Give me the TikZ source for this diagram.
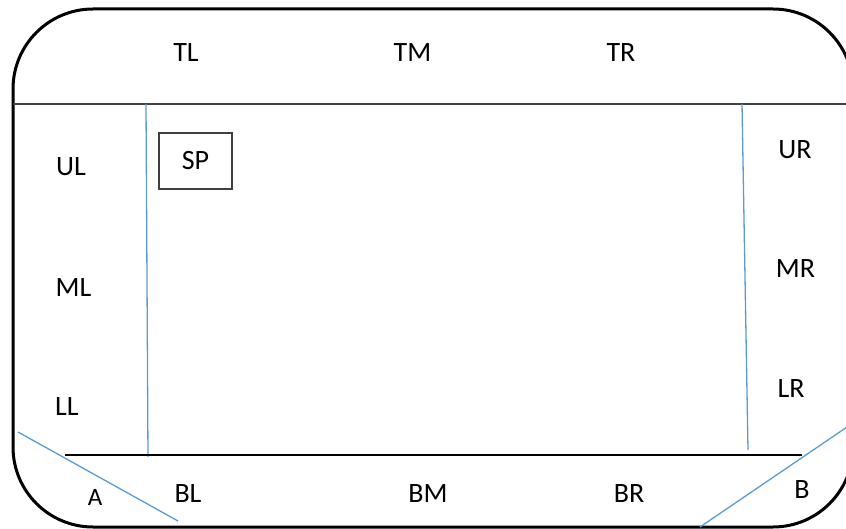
\documentclass[tikz,border=0pt]{standalone}
\usepackage{fontspec}
\setmainfont{Carlito}
\definecolor{bluel}{HTML}{5B9BD5}
\definecolor{darkg}{HTML}{404040}
\begin{document}
\begin{tikzpicture}[x=1pt,y=-1pt,
  lab/.style={font=\fontsize{28}{32}\selectfont, inner sep=0pt, anchor=center},
  blueline/.style={draw=bluel, line width=1.3pt},
  sepline/.style={draw=darkg, line width=2pt},
  outer/.style={draw=black, line width=3pt, rounded corners=80pt}]
\useasboundingbox (0,0) rectangle (846,529);
\clip (0,0) rectangle (846,529);
% outer frame
\draw[outer] (13,9) rectangle (853,527);
% top separator
\draw[sepline] (13,104) -- (846,104);
% blue verticals
\draw[blueline] (146,104) -- (148,457);
\draw[blueline] (742,104) -- (748,450);
% bottom line
\draw[draw=black, line width=1.5pt] (65,455) -- (802,455);
% blue diagonals
\draw[blueline] (18,432) -- (178,521);
\draw[blueline] (700,527) -- (850,425);
% SP box
\node[draw=darkg, line width=1.3pt, minimum width=73pt, minimum height=56pt, inner sep=0pt,
      font=\fontsize{28}{32}\selectfont] (sp) at (195.5,161) {SP};
% labels
\node[lab] (tl) at (186,53) {TL};
\node[lab] (tm) at (412.5,52.5) {TM};
\node[lab] (tr) at (621,53) {TR};
\node[lab] (ul) at (71,167) {UL};
\node[lab] (ml) at (73.5,287.5) {ML};
\node[lab] (ll) at (67,407) {LL};
\node[lab] (ur) at (795,150) {UR};
\node[lab] (mr) at (795.5,269) {MR};
\node[lab] (lr) at (791,389) {LR};
\node[lab] (bl) at (188,494) {BL};
\node[lab] (bm) at (428,494) {BM};
\node[lab] (br) at (629,494) {BR};
\node[lab, font=\fontsize{25}{29}\selectfont] (a) at (95,497) {A};
\node[lab] (b) at (802,490) {B};
\end{tikzpicture}
\end{document}
